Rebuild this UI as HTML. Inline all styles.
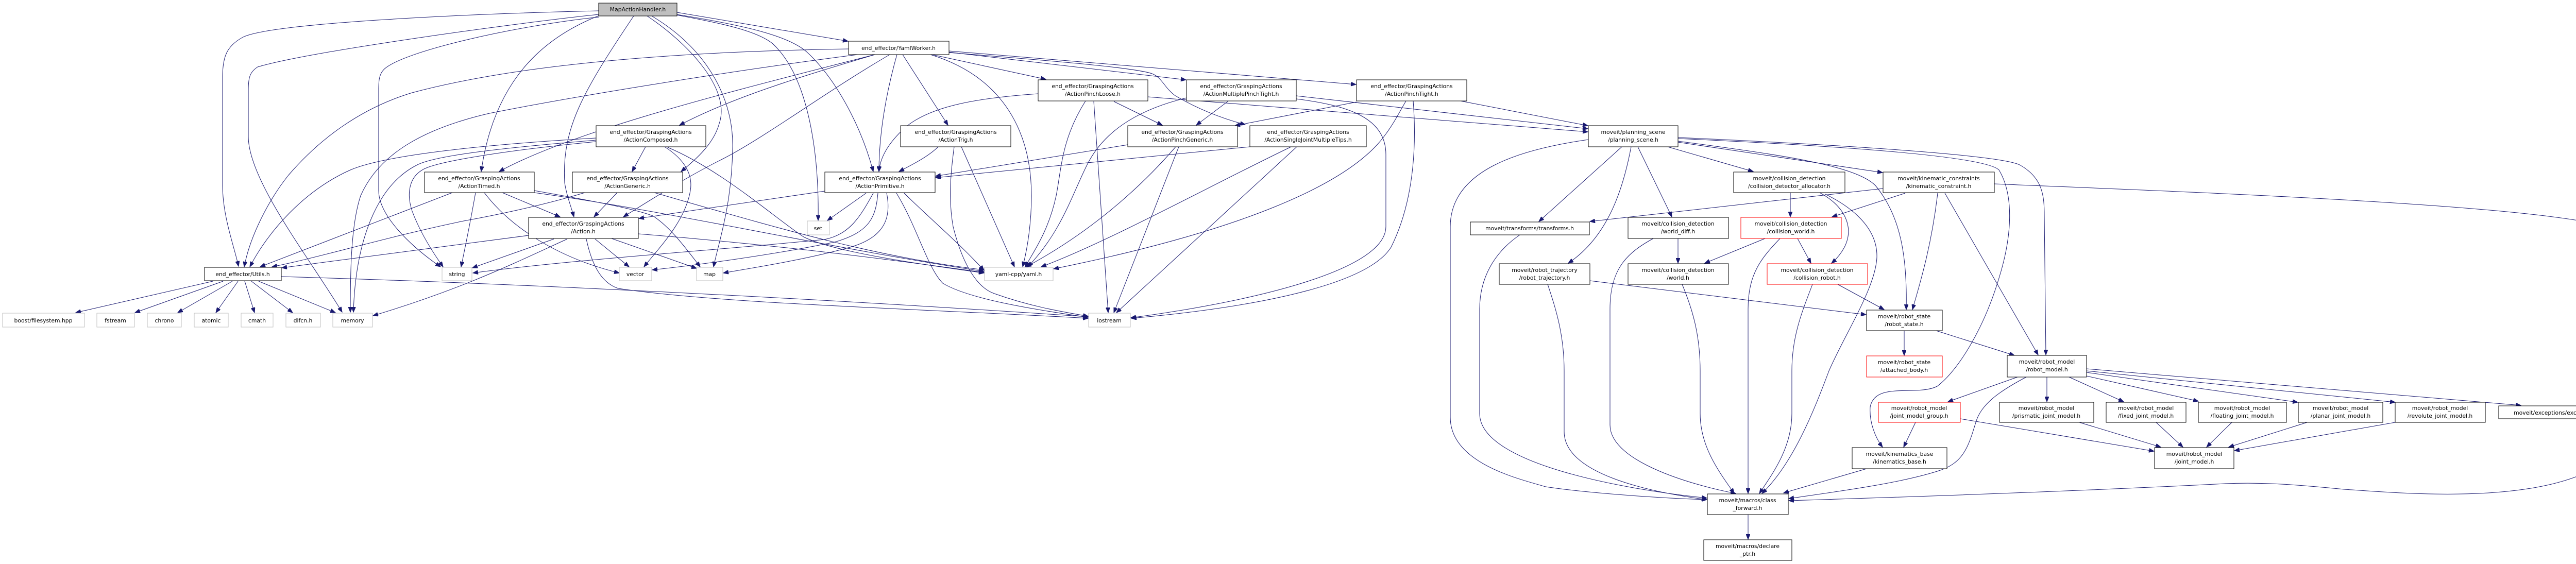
<!DOCTYPE html>
<html><head><meta charset="utf-8"><style>
html,body{margin:0;padding:0;background:#fff;}
svg{display:block;}
text{font-family:"DejaVu Sans","Liberation Sans",sans-serif;font-size:10.8px;fill:#000;text-anchor:middle;}
.e{fill:none;stroke:#191970;stroke-width:1;marker-end:url(#a);}
.n{fill:#fff;stroke:#000;stroke-width:1;}
.l{fill:#fff;stroke:#bfbfbf;stroke-width:1;}
.r{fill:#fff;stroke:#ff0000;stroke-width:1;}
</style></head><body>
<svg width="5123" height="1095" viewBox="0 0 5123 1095" xmlns="http://www.w3.org/2000/svg">
<defs><marker id="a" markerWidth="11" markerHeight="8" refX="10" refY="4" orient="auto" markerUnits="userSpaceOnUse"><path d="M0,0 L10,4 L0,8z" fill="#191970" stroke="#191970"/></marker></defs>
<g>
<path class="e" d="M1162,21 C900,27 520,45 470,73 C440,90 432,110 432,150 L432,360 C432,420 455,480 463,517"/>
<path class="e" d="M1162,28 C1000,45 600,100 500,130 C485,140 482,150 482,175 L482,265 C482,350 600,500 664,606"/>
<path class="e" d="M1163,33 C1000,50 780,100 745,135 C735,145 735,160 735,175 L735,370 C735,420 800,480 855,518"/>
<path class="e" d="M1230,31 C1130,180 1090,250 1096,355 C1100,380 1108,400 1114,421"/>
<path class="e" d="M1166,29 C1060,70 960,150 934,333"/>
<path class="e" d="M1256,31 C1330,80 1420,170 1396,240 C1385,280 1350,310 1322,333"/>
<path class="e" d="M1265,31 C1380,100 1425,200 1422,290 C1420,400 1395,470 1385,518"/>
<path class="e" d="M1313,29 C1400,45 1470,60 1500,85 C1570,150 1590,300 1588,428"/>
<path class="e" d="M1313,28 C1450,50 1530,70 1565,100 C1620,150 1670,240 1695,333"/>
<path class="e" d="M1314,24 L1646,80"/>
<path class="e" d="M1647,95 C1200,102 950,140 800,180 C700,210 620,270 560,340 C520,390 485,460 474,518"/>
<path class="e" d="M1665,106 C1400,140 1100,190 950,220 C820,250 735,300 700,380 C680,440 680,540 680,606"/>
<path class="e" d="M1698,106 C1450,170 1120,250 969,333"/>
<path class="e" d="M1698,106 C1550,150 1420,190 1319,243"/>
<path class="e" d="M1727,106 C1600,180 1480,270 1400,310 C1330,345 1260,390 1210,421"/>
<path class="e" d="M1741,106 C1720,180 1706,260 1706,333"/>
<path class="e" d="M1752,106 L1840,243"/>
<path class="e" d="M1806,106 C1950,150 2002,260 2002,380 C2002,430 1995,480 1985,518"/>
<path class="e" d="M1800,104 L2030,154"/>
<path class="e" d="M1840,101 L2302,155"/>
<path class="e" d="M1842,99 L2632,164"/>
<path class="e" d="M1842,102 C2000,115 2200,130 2236,143 C2255,150 2260,170 2280,185 C2330,215 2380,232 2417,242"/>
<path class="e" d="M1157,268 C950,280 750,300 680,330 C590,370 520,450 485,518"/>
<path class="e" d="M1157,272 C1000,285 850,300 810,320 C730,360 690,470 686,606"/>
<path class="e" d="M1157,275 C1000,290 870,310 830,325 C790,340 790,380 800,410 C815,450 840,490 860,518"/>
<path class="e" d="M1253,285 L1227,333"/>
<path class="e" d="M1290,285 C1330,310 1345,340 1340,370 C1330,430 1280,480 1250,518"/>
<path class="e" d="M1296,286 C1400,330 1500,420 1560,460 C1620,490 1800,515 1910,530"/>
<path class="e" d="M878,374 L505,518"/>
<path class="e" d="M923,374 C915,420 905,470 895,518"/>
<path class="e" d="M975,374 L1087,421"/>
<path class="e" d="M940,374 C990,440 1080,500 1202,530"/>
<path class="e" d="M1037,370 C1150,390 1230,405 1267,419 C1300,440 1330,480 1359,518"/>
<path class="e" d="M1037,374 C1300,410 1600,480 1910,527"/>
<path class="e" d="M1198,374 L1153,421"/>
<path class="e" d="M1135,374 C1050,400 950,420 900,429 C750,460 620,500 528,518"/>
<path class="e" d="M1270,374 C1500,440 1700,500 1910,524"/>
<path class="e" d="M1026,457 L547,520"/>
<path class="e" d="M1075,464 L917,520"/>
<path class="e" d="M1101,464 C1000,510 900,560 724,613"/>
<path class="e" d="M1155,464 L1221,518"/>
<path class="e" d="M1187,463 L1352,521"/>
<path class="e" d="M1138,464 C1150,520 1170,550 1200,560 C1400,590 1800,600 2112,618"/>
<path class="e" d="M1239,454 C1500,475 1700,500 1910,529"/>
<path class="e" d="M546,537 C1000,550 1600,580 2112,615"/>
<path class="e" d="M413,546 L147,607"/>
<path class="e" d="M433,546 L262,607"/>
<path class="e" d="M451,546 L345,607"/>
<path class="e" d="M462,546 L419,607"/>
<path class="e" d="M475,546 L494,607"/>
<path class="e" d="M488,546 L568,607"/>
<path class="e" d="M502,546 L651,607"/>
<path class="e" d="M1601,371 L1240,424"/>
<path class="e" d="M1681,375 L1606,428"/>
<path class="e" d="M1695,375 C1670,420 1650,455 1600,465 C1400,485 1100,505 918,530"/>
<path class="e" d="M1704,375 C1700,420 1690,450 1620,470 C1500,495 1350,515 1266,524"/>
<path class="e" d="M1721,375 C1730,420 1720,460 1650,480 C1560,505 1460,520 1404,530"/>
<path class="e" d="M1755,375 C1800,420 1860,470 1910,525"/>
<path class="e" d="M1740,375 C1780,440 1800,520 1830,550 C1880,580 2000,600 2112,616"/>
<path class="e" d="M1820,286 C1800,305 1770,320 1745,333"/>
<path class="e" d="M1866,285 L1969,518"/>
<path class="e" d="M1852,285 C1846,330 1840,384 1850,440 C1870,520 1900,560 1930,570 C2000,595 2060,605 2112,614"/>
<path class="e" d="M2015,182 C1900,190 1810,205 1760,245 C1720,280 1708,310 1706,333"/>
<path class="e" d="M2107,196 C2060,270 2060,330 2050,380 C2035,450 2005,490 1990,518"/>
<path class="e" d="M2123,197 L2151,607"/>
<path class="e" d="M2162,197 L2256,243"/>
<path class="e" d="M2228,188 L3082,256"/>
<path class="e" d="M2383,197 L2322,243"/>
<path class="e" d="M2303,190 C2200,215 2140,260 2110,320 C2080,380 2060,450 1995,518"/>
<path class="e" d="M2516,192 C2620,205 2690,230 2690,300 L2690,440 C2690,530 2400,590 2195,617"/>
<path class="e" d="M2516,186 L3082,250"/>
<path class="e" d="M2633,198 L2397,244"/>
<path class="e" d="M2729,196 C2715,220 2705,240 2690,260 C2620,360 2400,450 2045,522"/>
<path class="e" d="M2743,196 C2748,260 2750,380 2700,480 C2650,560 2400,600 2196,618"/>
<path class="e" d="M2835,196 L3082,244"/>
<path class="e" d="M2189,281 L1816,342"/>
<path class="e" d="M2282,285 C2200,380 2100,460 1992,518"/>
<path class="e" d="M2288,285 L2162,607"/>
<path class="e" d="M2426,285 L1816,345"/>
<path class="e" d="M2506,285 C2350,360 2150,470 2021,518"/>
<path class="e" d="M2517,285 L2167,607"/>
<path class="e" d="M3083,271 C2950,290 2815,330 2815,440 L2815,810 C2815,900 2950,930 3000,945 C3100,960 3250,968 3313,970"/>
<path class="e" d="M3148,285 L2987,430"/>
<path class="e" d="M3166,285 C3150,370 3120,460 3044,511"/>
<path class="e" d="M3179,285 L3245,421"/>
<path class="e" d="M3237,285 L3403,333"/>
<path class="e" d="M3257,276 L3654,335"/>
<path class="e" d="M3257,274 C3450,300 3600,320 3640,360 C3690,420 3702,500 3700,601"/>
<path class="e" d="M3257,269 C3500,280 3850,300 3880,330 C3910,380 3905,460 3880,540 C3850,640 3800,720 3760,750 C3720,770 3640,740 3630,790 C3628,820 3640,850 3654,868"/>
<path class="e" d="M3257,267 C3550,280 3880,300 3920,320 C3965,345 3968,380 3968,420 L3971,689"/>
<path class="e" d="M3655,366 L3086,430"/>
<path class="e" d="M3698,375 L3556,421"/>
<path class="e" d="M3761,375 C3750,470 3730,540 3712,601"/>
<path class="e" d="M3775,375 L3956,689"/>
<path class="e" d="M3871,357 C4300,375 5000,400 5090,450 C5110,465 5118,480 5118,530 L5118,780 C5118,1000 4700,960 4550,950 C4450,940 4380,935 4300,940 C4000,955 3700,965 3472,972"/>
<path class="e" d="M3475,374 L3475,421"/>
<path class="e" d="M3532,374 C3580,400 3600,440 3580,480 C3572,495 3562,505 3555,511"/>
<path class="e" d="M3543,377 C3590,400 3645,440 3643,500 C3640,560 3580,650 3550,720 C3520,800 3480,900 3420,958"/>
<path class="e" d="M3426,463 L3309,511"/>
<path class="e" d="M3489,463 L3515,511"/>
<path class="e" d="M3455,463 C3420,500 3393,530 3393,600 L3393,958"/>
<path class="e" d="M3257,463 L3257,511"/>
<path class="e" d="M3209,463 C3160,490 3125,520 3125,600 L3125,825 C3125,900 3300,945 3369,958"/>
<path class="e" d="M3265,552 C3285,600 3300,650 3300,720 L3300,803 C3300,870 3340,920 3366,958"/>
<path class="e" d="M3518,552 C3500,600 3478,650 3478,720 L3478,803 C3478,870 3440,920 3415,958"/>
<path class="e" d="M3567,552 L3657,601"/>
<path class="e" d="M3004,552 C3020,600 3036,650 3036,720 L3036,838 C3036,920 3200,955 3313,970"/>
<path class="e" d="M3086,545 L3622,611"/>
<path class="e" d="M2950,456 C2900,490 2872,540 2872,600 L2872,803 C2872,900 3150,950 3313,967"/>
<path class="e" d="M3696,642 L3696,690"/>
<path class="e" d="M3758,642 L3910,690"/>
<path class="e" d="M3916,732 L3781,780"/>
<path class="e" d="M3973,732 L3973,780"/>
<path class="e" d="M4016,732 L4122,780"/>
<path class="e" d="M4050,730 L4267,779"/>
<path class="e" d="M4050,723 L4460,781"/>
<path class="e" d="M4050,720 L4649,781"/>
<path class="e" d="M4050,716 L4893,787"/>
<path class="e" d="M3933,732 C3880,760 3845,785 3835,820 C3820,870 3810,900 3760,915 C3680,940 3560,955 3472,968"/>
<path class="e" d="M3718,820 L3695,868"/>
<path class="e" d="M3805,813 L4181,876"/>
<path class="e" d="M4036,820 L4194,868"/>
<path class="e" d="M4185,820 L4237,868"/>
<path class="e" d="M4332,820 L4283,868"/>
<path class="e" d="M4478,820 L4326,868"/>
<path class="e" d="M4649,820 L4337,875"/>
<path class="e" d="M3623,910 L3462,957"/>
<path class="e" d="M3393,999 L3393,1047"/>
</g>
<g>
<rect x="1162" y="6" width="152" height="25" fill="#bfbfbf" stroke="#000"/><text x="1238" y="22">MapActionHandler.h</text>
<rect class="n" x="1647" y="80" width="195" height="26"/><text x="1744" y="97">end_effector/YamlWorker.h</text>
<rect class="n" x="1157" y="244" width="213" height="41"/><text x="1263" y="260">end_effector/GraspingActions</text><text x="1263" y="275">/ActionComposed.h</text>
<rect class="n" x="824" y="334" width="213" height="40"/><text x="930" y="350">end_effector/GraspingActions</text><text x="930" y="365">/ActionTimed.h</text>
<rect class="n" x="1111" y="334" width="214" height="40"/><text x="1218" y="350">end_effector/GraspingActions</text><text x="1218" y="365">/ActionGeneric.h</text>
<rect class="n" x="1026" y="422" width="213" height="41"/><text x="1132" y="438">end_effector/GraspingActions</text><text x="1132" y="453">/Action.h</text>
<rect class="n" x="1601" y="334" width="214" height="40"/><text x="1708" y="350">end_effector/GraspingActions</text><text x="1708" y="365">/ActionPrimitive.h</text>
<rect class="n" x="1748" y="244" width="214" height="41"/><text x="1855" y="260">end_effector/GraspingActions</text><text x="1855" y="275">/ActionTrig.h</text>
<rect class="n" x="2015" y="155" width="213" height="41"/><text x="2121" y="171">end_effector/GraspingActions</text><text x="2121" y="186">/ActionPinchLoose.h</text>
<rect class="n" x="2303" y="155" width="213" height="41"/><text x="2409" y="171">end_effector/GraspingActions</text><text x="2409" y="186">/ActionMultiplePinchTight.h</text>
<rect class="n" x="2633" y="155" width="214" height="41"/><text x="2740" y="171">end_effector/GraspingActions</text><text x="2740" y="186">/ActionPinchTight.h</text>
<rect class="n" x="2189" y="244" width="213" height="41"/><text x="2295" y="260">end_effector/GraspingActions</text><text x="2295" y="275">/ActionPinchGeneric.h</text>
<rect class="n" x="2426" y="244" width="226" height="41"/><text x="2539" y="260">end_effector/GraspingActions</text><text x="2539" y="275">/ActionSingleJointMultipleTips.h</text>
<rect class="n" x="397" y="519" width="149" height="26"/><text x="471" y="536">end_effector/Utils.h</text>
<rect class="l" x="1567" y="429" width="43" height="27"/><text x="1588" y="447">set</text>
<rect class="l" x="1202" y="519" width="63" height="26"/><text x="1233" y="536">vector</text>
<rect class="l" x="1352" y="519" width="51" height="26"/><text x="1377" y="536">map</text>
<rect class="l" x="858" y="519" width="58" height="26"/><text x="887" y="536">string</text>
<rect class="l" x="1911" y="519" width="133" height="26"/><text x="1977" y="536">yaml-cpp/yaml.h</text>
<rect class="l" x="5" y="608" width="159" height="27"/><text x="84" y="626">boost/filesystem.hpp</text>
<rect class="l" x="188" y="608" width="73" height="27"/><text x="224" y="626">fstream</text>
<rect class="l" x="286" y="608" width="66" height="27"/><text x="319" y="626">chrono</text>
<rect class="l" x="377" y="608" width="66" height="27"/><text x="410" y="626">atomic</text>
<rect class="l" x="468" y="608" width="62" height="27"/><text x="499" y="626">cmath</text>
<rect class="l" x="555" y="608" width="67" height="27"/><text x="588" y="626">dlfcn.h</text>
<rect class="l" x="646" y="608" width="77" height="27"/><text x="684" y="626">memory</text>
<rect class="l" x="2113" y="608" width="81" height="27"/><text x="2153" y="626">iostream</text>
<rect class="n" x="3083" y="244" width="174" height="41"/><text x="3170" y="260">moveit/planning_scene</text><text x="3170" y="275">/planning_scene.h</text>
<rect class="n" x="3365" y="334" width="216" height="40"/><text x="3473" y="350">moveit/collision_detection</text><text x="3473" y="365">/collision_detector_allocator.h</text>
<rect class="n" x="3655" y="334" width="216" height="40"/><text x="3763" y="350">moveit/kinematic_constraints</text><text x="3763" y="365">/kinematic_constraint.h</text>
<rect class="n" x="2854" y="431" width="231" height="25"/><text x="2969" y="447">moveit/transforms/transforms.h</text>
<rect class="n" x="3160" y="422" width="195" height="41"/><text x="3257" y="438">moveit/collision_detection</text><text x="3257" y="453">/world_diff.h</text>
<rect class="r" x="3379" y="422" width="195" height="41"/><text x="3476" y="438">moveit/collision_detection</text><text x="3476" y="453">/collision_world.h</text>
<rect class="n" x="2910" y="512" width="176" height="40"/><text x="2998" y="528">moveit/robot_trajectory</text><text x="2998" y="543">/robot_trajectory.h</text>
<rect class="n" x="3160" y="512" width="195" height="40"/><text x="3257" y="528">moveit/collision_detection</text><text x="3257" y="543">/world.h</text>
<rect class="r" x="3430" y="512" width="195" height="40"/><text x="3527" y="528">moveit/collision_detection</text><text x="3527" y="543">/collision_robot.h</text>
<rect class="n" x="3623" y="602" width="147" height="40"/><text x="3696" y="618">moveit/robot_state</text><text x="3696" y="633">/robot_state.h</text>
<rect class="r" x="3623" y="691" width="147" height="41"/><text x="3696" y="707">moveit/robot_state</text><text x="3696" y="722">/attached_body.h</text>
<rect class="n" x="3896" y="690" width="154" height="42"/><text x="3973" y="706">moveit/robot_model</text><text x="3973" y="721">/robot_model.h</text>
<rect class="r" x="3646" y="781" width="159" height="39"/><text x="3725" y="796">moveit/robot_model</text><text x="3725" y="811">/joint_model_group.h</text>
<rect class="n" x="3881" y="781" width="183" height="39"/><text x="3972" y="796">moveit/robot_model</text><text x="3972" y="811">/prismatic_joint_model.h</text>
<rect class="n" x="4088" y="781" width="155" height="39"/><text x="4165" y="796">moveit/robot_model</text><text x="4165" y="811">/fixed_joint_model.h</text>
<rect class="n" x="4267" y="781" width="171" height="39"/><text x="4352" y="796">moveit/robot_model</text><text x="4352" y="811">/floating_joint_model.h</text>
<rect class="n" x="4461" y="781" width="164" height="39"/><text x="4543" y="796">moveit/robot_model</text><text x="4543" y="811">/planar_joint_model.h</text>
<rect class="n" x="4649" y="781" width="175" height="39"/><text x="4736" y="796">moveit/robot_model</text><text x="4736" y="811">/revolute_joint_model.h</text>
<rect class="n" x="4850" y="788" width="230" height="25"/><text x="4965" y="805">moveit/exceptions/exceptions.h</text>
<rect class="n" x="3595" y="869" width="184" height="41"/><text x="3687" y="885">moveit/kinematics_base</text><text x="3687" y="900">/kinematics_base.h</text>
<rect class="n" x="4182" y="869" width="154" height="41"/><text x="4259" y="885">moveit/robot_model</text><text x="4259" y="900">/joint_model.h</text>
<rect class="n" x="3314" y="959" width="157" height="40"/><text x="3392" y="975">moveit/macros/class</text><text x="3392" y="990">_forward.h</text>
<rect class="n" x="3307" y="1048" width="171" height="40"/><text x="3392" y="1064">moveit/macros/declare</text><text x="3392" y="1079">_ptr.h</text>
</g>
</svg>
</body></html>
